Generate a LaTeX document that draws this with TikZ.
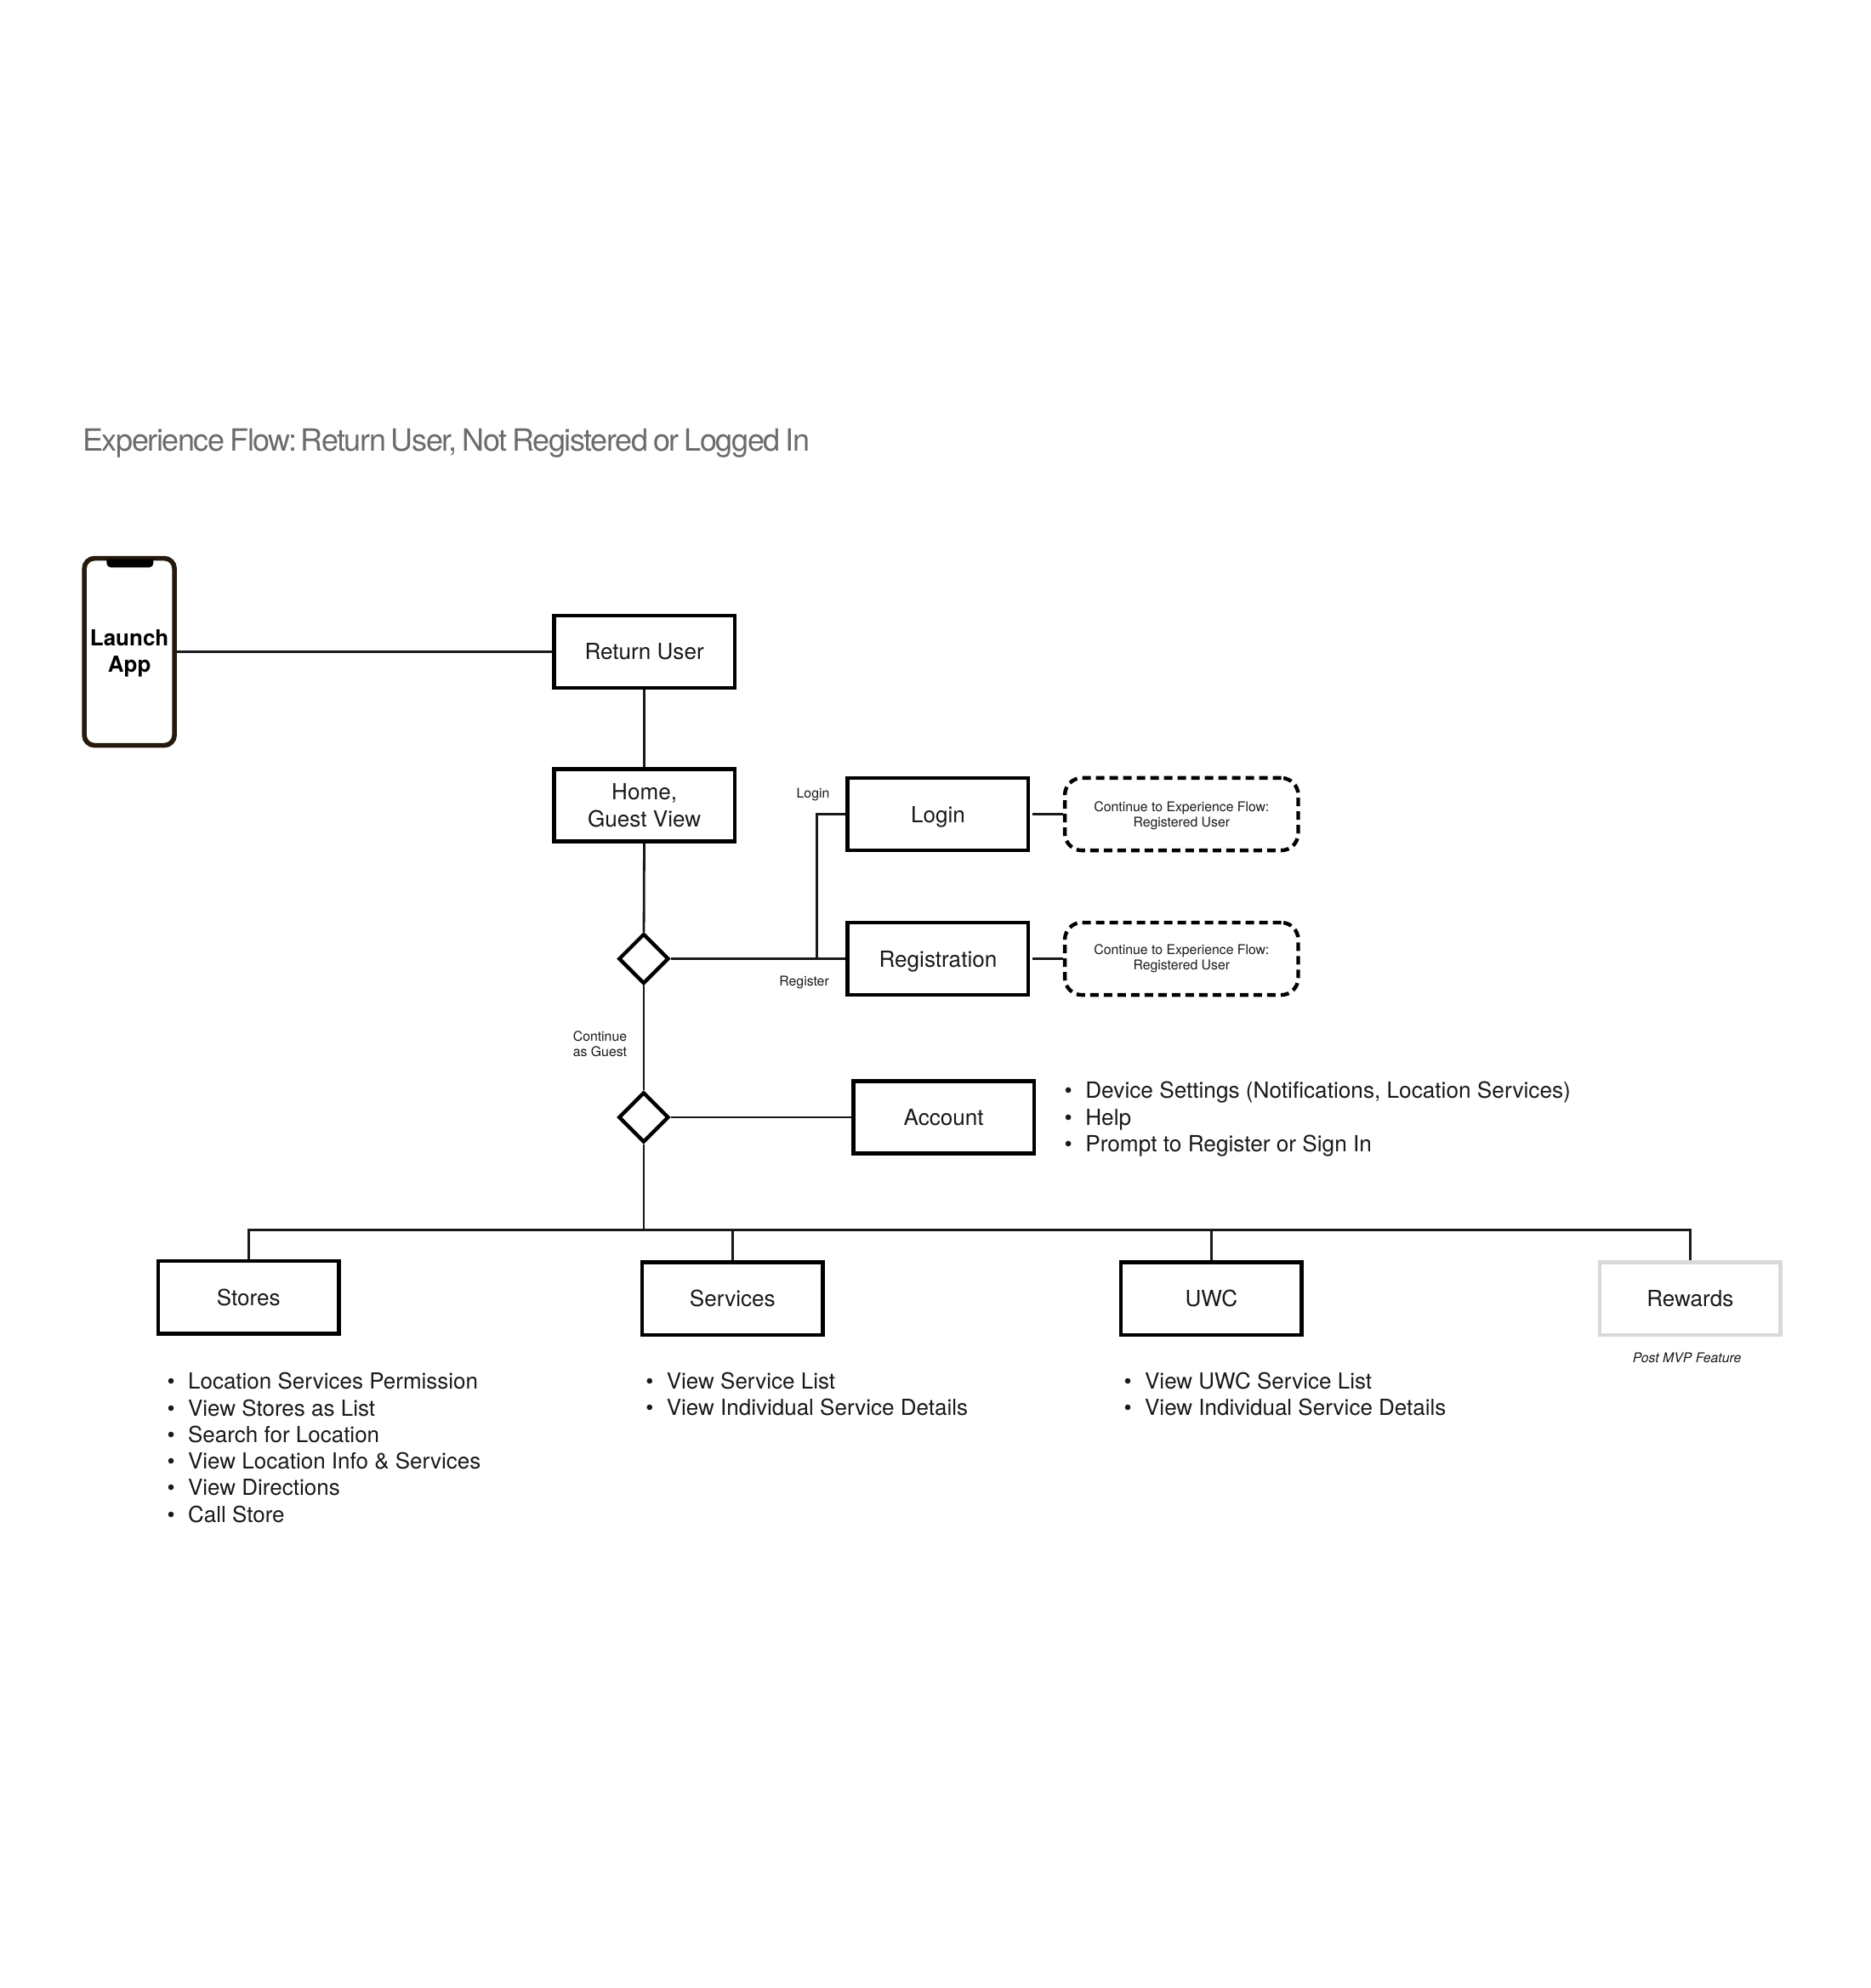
\documentclass[tikz,border=0pt]{standalone}
\usepackage{fontspec}
\setmainfont{TeX Gyre Heros}
\newfontfamily\titlefont[LetterSpace=-4,WordSpace=0.7]{TeX Gyre Heros}
\usetikzlibrary{shapes.geometric}
\newcommand{\bul}[1]{\makebox[12.3pt][l]{•}#1}
\tikzset{
  x=0.74576pt,y=-0.74576pt,
  conn/.style={line width=1.4pt,draw=black!90},
  flowbox/.style={draw=black,line width=2.2pt,rectangle,minimum width=106.3pt,minimum height=42.6pt,inner sep=0pt,
    font=\fontsize{13.05}{15.65}\selectfont,align=center,text=black!90},
  graybox/.style={flowbox,draw=black!15},
  contbox/.style={draw=black,line width=2.2pt,rounded corners=10pt,dash pattern=on 5pt off 3pt,rectangle,
    minimum width=137.2pt,minimum height=42.6pt,inner sep=0pt,font=\fontsize{7.9}{9}\selectfont,align=center,text=black!90},
  gate/.style={draw=black,line width=2.2pt,diamond,aspect=1,minimum width=29.5pt,minimum height=29.5pt,inner sep=0pt},
  smalllabel/.style={inner sep=0pt,font=\fontsize{7.9}{9}\selectfont,align=center,text=black!90},
  bulletlist/.style={inner sep=0pt,anchor=west,align=left,font=\fontsize{13}{15.65}\selectfont,text=black!90},
}
\begin{document}
\begin{tikzpicture}
\useasboundingbox (0,0) rectangle (1475,1567.6);
\fill[white] (0,0) rectangle (1475,1567.6);

\node[anchor=west,inner sep=0pt,text=black!58,font=\titlefont\fontsize{18}{20}\selectfont] (title) at (65,349.5) {Experience Flow:\hspace{-2.2pt} Return User, Not Registered or Logged In};

% phone
\node[draw=black!80!brown,line width=2.8pt,rectangle,rounded corners=6pt,minimum width=53pt,minimum height=110pt,inner sep=0pt] (phone) at (102,514) {};
\fill[black] (84,441) -- (121,441) -- (121,444) arc[start angle=0,end angle=90,radius=3.5] -- (87.5,447.5) arc[start angle=90,end angle=180,radius=3.5] -- cycle;
\node[inner sep=0pt,font=\bfseries\fontsize{13}{15.65}\selectfont,align=center] (launch) at (102,515) {Launch\\App};

% main boxes
\node[flowbox] (ret) at (508,514) {Return User};
\node[flowbox] (home) at (508,635) {Home,\\Guest View};
\node[gate] (d1) at (507.5,756) {};
\node[gate] (d2) at (507.5,881) {};
\node[flowbox,text depth=1.5pt,text height=11.3pt] (login) at (739.5,642) {Login};
\node[flowbox,text depth=1.5pt,text height=11.3pt] (reg) at (739.5,756) {Registration};
\node[contbox] (c1) at (931.5,642) {\rule{0pt}{7.5pt}Continue to Experience Flow:\\Registered User};
\node[contbox] (c2) at (931.5,756) {Continue to Experience Flow:\\Registered User};
\node[flowbox] (acct) at (744,881) {Account};
\node[flowbox] (stores) at (196,1023) {Stores};
\node[flowbox] (serv) at (577.5,1024) {Services};
\node[flowbox] (uwc) at (955,1024) {UWC};
\node[graybox] (rew) at (1332.5,1024) {Rewards};

% labels
\node[smalllabel] (lbl1) at (641,626.5) {Login};
\node[smalllabel] (lbl2) at (634,775) {Register};
\node[smalllabel] (lbl3) at (473,823) {Continue\\as Guest};
\node[smalllabel,font=\itshape\fontsize{7.9}{9}\selectfont] (lbl4) at (1330,1070.5) {Post MVP Feature};

% lists
\node[bulletlist,font=\fontsize{13.1}{15.65}\selectfont] (l0) at (839,882.5) {\bul{Device Settings (Notifications, Location Services)}\\\bul{Help}\\\bul{Prompt to Register or Sign In}};
\node[bulletlist] (l1) at (131.5,1141.5) {\bul{Location Services Permission}\\\bul{View Stores as List}\\\bul{Search for Location}\\\bul{View Location Info \& Services}\\\bul{View Directions}\\\bul{Call Store}};
\node[bulletlist] (l2) at (508.8,1099.5) {\bul{View Service List}\\\bul{View Individual Service Details}};
\node[bulletlist] (l3) at (885.8,1099.5) {\bul{View UWC Service List}\\\bul{View Individual Service Details}};

% connectors
\coordinate (jn) at (644,756);
\coordinate (busC) at (507.5,970);
\draw[conn] (phone) -- (ret);
\draw[conn] (ret) -- (home);
\draw[conn] (home) -- (d1);
\draw[conn] (d1) -- (d2);
\draw[conn] (d1) -- (reg);
\draw[conn] (jn) |- (login);
\draw[conn,shorten <=1.2pt] (login) -- (c1);
\draw[conn,shorten <=1.2pt] (reg) -- (c2);
\draw[conn] (d2) -- (acct);
\draw[conn] (d2) -- (busC);
\draw[conn] (stores.north) |- (busC) -| (rew.north);
\draw[conn] (serv.north) -- (serv.north |- busC);
\draw[conn] (uwc.north) -- (uwc.north |- busC);
\end{tikzpicture}
\end{document}
